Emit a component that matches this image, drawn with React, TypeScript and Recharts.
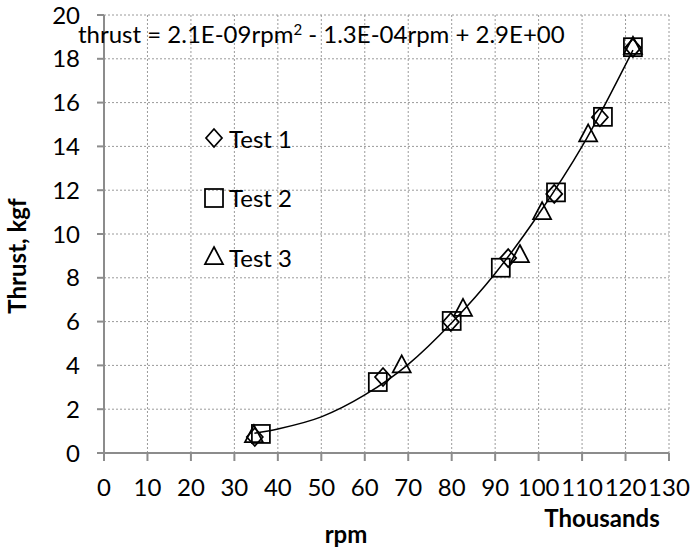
import React from "react";
import { CartesianGrid, ComposedChart, Line, Scatter, XAxis, YAxis } from "recharts";

const FONT = "Lato, 'Open Sans', sans-serif";

// rpm in thousands, thrust in kgf
const test1Rpm = [34.7, 64.2, 79.8, 93.0, 103.6, 114.1, 121.7];
const test1Thrust = [0.73, 3.47, 5.98, 8.9, 11.83, 15.33, 18.5];
const test2Rpm = [36.1, 63.0, 80.0, 91.3, 104.0, 114.8, 121.7];
const test2Thrust = [0.87, 3.24, 6.03, 8.46, 11.9, 15.35, 18.53];
const test3Rpm = [34.5, 68.5, 82.6, 95.7, 100.8, 111.4, 121.7];
const test3Thrust = [0.82, 4.0, 6.58, 9.04, 11.0, 14.55, 18.55];

// trendline
const trendRpm = [34.6, 40, 50, 60, 70, 80, 90, 100, 110, 121.7];
const trendThrust = [0.9, 1.1, 1.65, 2.65, 4.05, 5.95, 8.2, 10.9, 14.0, 18.4];

const xTicks = [0, 10, 20, 30, 40, 50, 60, 70, 80, 90, 100, 110, 120, 130];
const yTicks = [0, 2, 4, 6, 8, 10, 12, 14, 16, 18, 20];
const seriesNames = ["Test 1", "Test 2", "Test 3"];

const zip = (xs: number[], ys: number[]) => xs.map((x, i) => ({ x, y: ys[i] }));

const test1 = zip(test1Rpm, test1Thrust);
const test2 = zip(test2Rpm, test2Thrust);
const test3 = zip(test3Rpm, test3Thrust);
const trend = zip(trendRpm, trendThrust);

const SW = 1.75;

function Diamond({ cx, cy }: any) {
  return (
    <path
      d={`M${cx},${cy - 9}L${cx + 8},${cy}L${cx},${cy + 9}L${cx - 8},${cy}Z`}
      fill="none"
      stroke="#000"
      strokeWidth={SW}
    />
  );
}

function Square({ cx, cy }: any) {
  return <rect x={cx - 9} y={cy - 9} width={18} height={18} fill="none" stroke="#000" strokeWidth={SW} />;
}

function Triangle({ cx, cy }: any) {
  return (
    <path
      d={`M${cx},${cy - 10}L${cx + 9},${cy + 7}L${cx - 9},${cy + 7}Z`}
      fill="none"
      stroke="#000"
      strokeWidth={SW}
    />
  );
}

const shapes = [Diamond, Square, Triangle];

const tickStyle = { fontSize: 24, fill: "#000", fontFamily: FONT };
const titleStyle: React.CSSProperties = {
  position: "absolute",
  fontFamily: FONT,
  fontWeight: 700,
  fontSize: 24,
  color: "#000",
  whiteSpace: "nowrap",
  lineHeight: 1,
};

export default function App() {
  return (
    <div style={{ position: "absolute", left: 0, top: 0, width: 691, height: 552, background: "#fff" }}>
      <ComposedChart width={691} height={552} margin={{ top: 15, right: 22, left: 0, bottom: 0 }}>
        <CartesianGrid stroke="#9a9a9a" strokeDasharray="2 2" />
        <XAxis
          type="number"
          dataKey="x"
          domain={[0, 130]}
          ticks={xTicks}
          interval={0}
          height={99}
          tick={tickStyle}
          tickSize={8}
          tickMargin={18}
          axisLine={{ stroke: "#8c8c8c", strokeWidth: 2 }}
          tickLine={{ stroke: "#8c8c8c", strokeWidth: 2 }}
        />
        <YAxis
          type="number"
          dataKey="y"
          domain={[0, 20]}
          ticks={yTicks}
          interval={0}
          width={104}
          tick={tickStyle}
          tickSize={7}
          tickMargin={17}
          axisLine={{ stroke: "#8c8c8c", strokeWidth: 2 }}
          tickLine={{ stroke: "#8c8c8c", strokeWidth: 2 }}
        />
        <Scatter data={test1} shape={<Diamond />} isAnimationActive={false} />
        <Scatter data={test2} shape={<Square />} isAnimationActive={false} />
        <Scatter data={test3} shape={<Triangle />} isAnimationActive={false} />
        <Line
          data={trend}
          dataKey="y"
          type="monotone"
          stroke="#000"
          strokeWidth={1.5}
          dot={false}
          activeDot={false}
          isAnimationActive={false}
        />
      </ComposedChart>

      <div style={{ ...titleStyle, fontWeight: 400, left: 78, top: 22 }}>
        thrust = 2.1E-09rpm<sup style={{ fontSize: 15, verticalAlign: "top", lineHeight: 1 }}>2</sup> - 1.3E-04rpm + 2.9E+00
      </div>

      {seriesNames.map((name, i) => {
        const Shape = shapes[i];
        const cy = 138 + i * 59.5;
        return (
          <div key={name} style={{ position: "absolute", left: 203, top: cy - 14, height: 28, display: "flex", alignItems: "center" }}>
            <svg width={24} height={28}>
              <Shape cx={11} cy={14} />
            </svg>
            <span style={{ fontFamily: FONT, fontSize: 24, marginLeft: 2, color: "#000" }}>{name}</span>
          </div>
        );
      })}

      <div style={{ ...titleStyle, left: 17, top: 256, transform: "translate(-50%, -50%) rotate(-90deg)" }}>
        Thrust, kgf
      </div>
      <div style={{ ...titleStyle, left: 346, top: 534, transform: "translate(-50%, -50%)" }}>rpm</div>
      <div style={{ ...titleStyle, left: 602, top: 518, transform: "translate(-50%, -50%)" }}>Thousands</div>
    </div>
  );
}
